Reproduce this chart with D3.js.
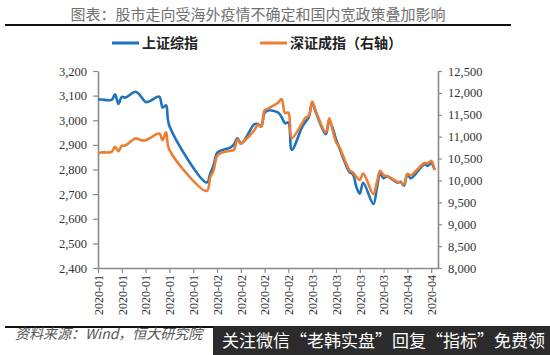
<!DOCTYPE html>
<html>
<head>
<meta charset="utf-8">
<script src="https://cdn.jsdelivr.net/npm/d3@7"></script>
<style>
  body { margin: 0; background: #fff; }
  svg { display: block; }
</style>
</head>
<body>
<div id="chart"></div>
<script>
// trading days, 2020
const dates = [
  "2020-01-02","2020-01-03","2020-01-06","2020-01-07","2020-01-08","2020-01-09","2020-01-10",
  "2020-01-13","2020-01-14","2020-01-15","2020-01-16","2020-01-17","2020-01-20","2020-01-21",
  "2020-01-22","2020-01-23",
  "2020-02-03","2020-02-04","2020-02-05","2020-02-06","2020-02-07","2020-02-10","2020-02-11",
  "2020-02-12","2020-02-13","2020-02-14","2020-02-17","2020-02-18","2020-02-19","2020-02-20",
  "2020-02-21","2020-02-24","2020-02-25","2020-02-26","2020-02-27","2020-02-28",
  "2020-03-02","2020-03-03","2020-03-04","2020-03-05","2020-03-06","2020-03-09","2020-03-10",
  "2020-03-11","2020-03-12","2020-03-13","2020-03-16","2020-03-17","2020-03-18","2020-03-19",
  "2020-03-20","2020-03-23","2020-03-24","2020-03-25","2020-03-26","2020-03-27","2020-03-30",
  "2020-03-31",
  "2020-04-01","2020-04-02","2020-04-03","2020-04-07","2020-04-08","2020-04-09","2020-04-10"
];

// 上证综指 (left axis)
const shValues = [
  3085, 3084, 3083, 3105, 3067, 3095, 3092,
  3116, 3107, 3090, 3074, 3076, 3096, 3052,
  3061, 2977,
  2747, 2783, 2818, 2867, 2876, 2890, 2902,
  2927, 2906, 2917, 2984, 2985, 2975, 3030,
  3040, 3031, 3013, 2988, 2991, 2880,
  2971, 2993, 3012, 3072, 3035, 2943, 2997,
  2969, 2923, 2887, 2789, 2780, 2729, 2702,
  2746, 2660, 2722, 2782, 2765, 2772, 2747,
  2750,
  2735, 2781, 2764, 2821, 2815, 2826, 2797
];

// 深证成指 (right axis)
const szValues = [
  10620, 10640, 10655, 10770, 10670, 10790, 10800,
  10960, 10940, 10915, 10920, 10955, 11070, 10920,
  11100, 10700,
  9760, 10070, 10230, 10560, 10620, 10680, 10700,
  10930, 10840, 10900, 11150, 11270, 11230, 11600,
  11640, 11780, 11860, 11540, 11550, 10970,
  11300, 11430, 11480, 11800, 11600, 11100, 11420,
  11150, 10880, 10760, 10230, 10180, 10080, 10010,
  10160, 9690, 9950, 10220, 10120, 10100, 9970,
  9950,
  9920, 10150, 10120, 10400, 10390, 10450, 10240
];

const leftTicks = [2400, 2500, 2600, 2700, 2800, 2900, 3000, 3100, 3200];
const rightTicks = [8000, 8500, 9000, 9500, 10000, 10500, 11000, 11500, 12000, 12500];

const seriesNames = ["上证综指", "深证成指（右轴）"];
const colors = ["#1f72bb", "#ed7d31"];

const W = 550, H = 355;
const margin = { top: 71, right: 112, bottom: 87, left: 98 };
const width = W - margin.left - margin.right;
const height = H - margin.top - margin.bottom;

const parse = d3.timeParse("%Y-%m-%d");
const sh = dates.map((d, i) => ({ date: parse(d), value: shValues[i] }));
const sz = dates.map((d, i) => ({ date: parse(d), value: szValues[i] }));

const svg = d3.select("#chart").append("svg")
    .attr("width", W)
    .attr("height", H);

// title + rule
svg.append("text")
    .attr("x", 258)
    .attr("y", 20)
    .attr("text-anchor", "middle")
    .style("font-family", "'Noto Sans CJK SC', sans-serif")
    .style("font-size", "15px")
    .style("fill", "#707070")
    .text("图表：股市走向受海外疫情不确定和国内宽政策叠加影响");

svg.append("line")
    .attr("x1", 5).attr("x2", 511)
    .attr("y1", 25).attr("y2", 25)
    .attr("stroke", "#111")
    .attr("stroke-width", 2);

// legend
const legendX = [112, 260];
seriesNames.forEach((name, i) => {
    const g = svg.append("g").attr("transform", `translate(${legendX[i]},43)`);
    g.append("line")
        .attr("x1", 0).attr("x2", 27)
        .attr("stroke", colors[i])
        .attr("stroke-width", 3);
    g.append("text")
        .attr("x", 30)
        .attr("y", 5)
        .style("font-family", "'Noto Sans CJK SC', sans-serif")
        .style("font-size", "14px")
        .style("font-weight", "bold")
        .style("fill", "#222")
        .text(name);
});

const plot = svg.append("g")
    .attr("transform", `translate(${margin.left},${margin.top})`);

const x = d3.scaleTime()
    .domain([parse("2020-01-02"), parse("2020-04-11")])
    .range([0, width]);

const yL = d3.scaleLinear().domain([2400, 3200]).range([height, 0]);
const yR = d3.scaleLinear().domain([8000, 12500]).range([height, 0]);

const axisColor = "#8a8a8a";
const tickFont = "'Liberation Serif', 'Times New Roman', serif";

function styleAxis(g) {
    g.select(".domain").attr("stroke", axisColor).attr("stroke-width", 1.6);
    g.selectAll(".tick line").attr("stroke", axisColor).attr("stroke-width", 1.2);
    g.selectAll(".tick text")
        .style("font-family", tickFont)
        .style("font-size", "12.5px")
        .style("fill", "#333");
}

// left axis
plot.append("g")
    .call(d3.axisLeft(yL).tickValues(leftTicks).tickFormat(d3.format(",")).tickSize(5).tickSizeOuter(0).tickPadding(6))
    .call(styleAxis);

// right axis
plot.append("g")
    .attr("transform", `translate(${width},0)`)
    .call(d3.axisRight(yR).tickValues(rightTicks).tickFormat(d3.format(",")).tickSize(4).tickSizeOuter(0).tickPadding(6))
    .call(styleAxis);

// x axis, weekly ticks from first trading day
const xTicks = d3.timeDay.range(parse("2020-01-02"), parse("2020-04-11"), 7);
const xAxis = plot.append("g")
    .attr("transform", `translate(0,${height})`)
    .call(d3.axisBottom(x).tickValues(xTicks).tickFormat(d3.timeFormat("%Y-%m")).tickSize(5).tickSizeOuter(0))
    .call(styleAxis);

xAxis.selectAll(".tick text")
    .style("font-size", "12px")
    .attr("text-anchor", "end")
    .attr("transform", "rotate(-90)")
    .attr("x", -7)
    .attr("y", 0)
    .attr("dy", "0.35em");

// lines
const lineL = d3.line()
    .x(d => x(d.date))
    .y(d => yL(d.value))
    .curve(d3.curveCatmullRom.alpha(0.5));

const lineR = d3.line()
    .x(d => x(d.date))
    .y(d => yR(d.value))
    .curve(d3.curveCatmullRom.alpha(0.5));

plot.append("path")
    .datum(sh)
    .attr("fill", "none")
    .attr("stroke", colors[0])
    .attr("stroke-width", 2.6)
    .attr("d", lineL);

plot.append("path")
    .datum(sz)
    .attr("fill", "none")
    .attr("stroke", colors[1])
    .attr("stroke-width", 2.6)
    .attr("d", lineR);

// footer
svg.append("line")
    .attr("x1", 5).attr("x2", 300)
    .attr("y1", 327).attr("y2", 327)
    .attr("stroke", "#111")
    .attr("stroke-width", 2);

svg.append("text")
    .attr("x", 15)
    .attr("y", 339)
    .style("font-family", "'Noto Sans CJK SC', sans-serif")
    .style("font-size", "14px")
    .style("font-style", "italic")
    .style("fill", "#555")
    .text("资料来源：Wind，恒大研究院");

svg.append("rect")
    .attr("x", 213).attr("y", 326)
    .attr("width", W - 213).attr("height", H - 326)
    .attr("fill", "#2b2b2b");

svg.append("text")
    .attr("x", 222)
    .attr("y", 347)
    .style("font-family", "'Noto Sans CJK SC', sans-serif")
    .style("font-size", "17px")
    .style("fill", "#fff")
    .text("关注微信“老韩实盘”回复“指标”免费领");
</script>
</body>
</html>
